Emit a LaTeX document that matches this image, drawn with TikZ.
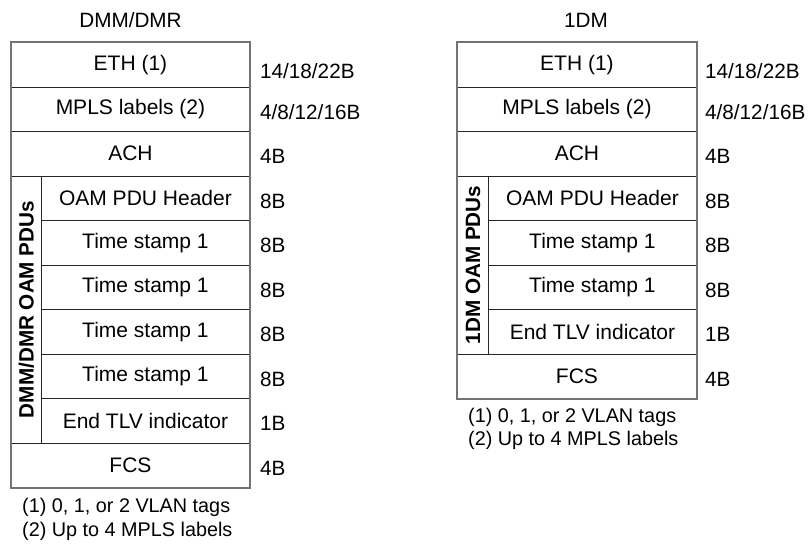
\documentclass[tikz,border=0pt]{standalone}
\usepackage{fontspec}
\setmainfont{Liberation Sans}
\newcommand\dfont{\fontsize{21}{24}\selectfont}
\newcommand\sfont{\fontsize{20.7}{24}\selectfont}
\newcommand\nfont{\fontsize{19.8}{23}\selectfont}
\begin{document}
\begin{tikzpicture}[x=1pt,y=-1pt,
  cell/.style={draw=black!85, line width=0.9pt, minimum height=44.5pt, inner sep=0pt, anchor=north west, font=\dfont},
  wide/.style={cell, minimum width=238pt},
  narrow/.style={cell, minimum width=208pt},
  sizelab/.style={anchor=west, inner sep=0pt, font=\sfont},
  note/.style={anchor=west, inner sep=0pt, font=\nfont},
  vlab/.style={rotate=90, inner sep=0pt, font=\sfont\bfseries},
  outer/.style={draw=black!55, line width=1.2pt}
]
\useasboundingbox (0,0) rectangle (809,546);

% ---------------- left: DMM/DMR ----------------
\node[font=\sfont, inner sep=0pt] (t1) at (130.5,20) {DMM/DMR};
\node[wide] (eth1) at (11,42) {ETH (1)};
\node[wide] (mpls1) at (11,86.5) {MPLS labels (2)};
\node[wide] (ach1) at (11,131) {ACH};
\node[cell, minimum width=30pt, minimum height=267pt] (strip1) at (11,175.5) {};
\node[narrow] (hdr1) at (41,175.5) {OAM PDU Header};
\node[narrow] (tsa1) at (41,220) {Time stamp 1};
\node[narrow] (tsb1) at (41,264.5) {Time stamp 1};
\node[narrow] (tsc1) at (41,309) {Time stamp 1};
\node[narrow] (tsd1) at (41,353.5) {Time stamp 1};
\node[narrow] (end1) at (41,398) {End TLV indicator};
\node[wide] (fcs1) at (11,442.5) {FCS};
\node[vlab] (v1) at (strip1.center) {DMM/DMR OAM PDUs};
\draw[outer] (eth1.north west) rectangle (fcs1.south east);

\node[sizelab] (s1a) at (260,71) {14/18/22B};
\node[sizelab] (s1b) at (260,112) {4/8/12/16B};
\node[sizelab] (s1c) at (260,156.5) {4B};
\node[sizelab] (s1d) at (260,201) {8B};
\node[sizelab] (s1e) at (260,245.5) {8B};
\node[sizelab] (s1f) at (260,290) {8B};
\node[sizelab] (s1g) at (260,334.5) {8B};
\node[sizelab] (s1h) at (260,379) {8B};
\node[sizelab] (s1i) at (260,423.5) {1B};
\node[sizelab] (s1j) at (260,468) {4B};

\node[note] (n1a) at (22,507) {(1) 0, 1, or 2 VLAN tags};
\node[note] (n1b) at (22,531) {(2) Up to 4 MPLS labels};

% ---------------- right: 1DM ----------------
\node[font=\sfont, inner sep=0pt] (t2) at (586,20) {1DM};
\node[wide, minimum width=239pt] (eth2) at (457,42) {ETH (1)};
\node[wide, minimum width=239pt] (mpls2) at (457,86.5) {MPLS labels (2)};
\node[wide, minimum width=239pt] (ach2) at (457,131) {ACH};
\node[cell, minimum width=31pt, minimum height=178pt] (strip2) at (457,175.5) {};
\node[narrow] (hdr2) at (488,175.5) {OAM PDU Header};
\node[narrow] (tsa2) at (488,220) {Time stamp 1};
\node[narrow] (tsb2) at (488,264.5) {Time stamp 1};
\node[narrow] (end2) at (488,309) {End TLV indicator};
\node[wide, minimum width=239pt] (fcs2) at (457,353.5) {FCS};
\node[vlab] (v2) at (strip2.center) {1DM OAM PDUs};
\draw[outer] (eth2.north west) rectangle (fcs2.south east);

\node[sizelab] (s2a) at (705,71) {14/18/22B};
\node[sizelab] (s2b) at (705,112) {4/8/12/16B};
\node[sizelab] (s2c) at (705,156.5) {4B};
\node[sizelab] (s2d) at (705,201) {8B};
\node[sizelab] (s2e) at (705,245.5) {8B};
\node[sizelab] (s2f) at (705,290) {8B};
\node[sizelab] (s2g) at (705,334.5) {1B};
\node[sizelab] (s2h) at (705,379) {4B};

\node[note] (n2a) at (468,417) {(1) 0, 1, or 2 VLAN tags};
\node[note] (n2b) at (468,440) {(2) Up to 4 MPLS labels};
\end{tikzpicture}
\end{document}
